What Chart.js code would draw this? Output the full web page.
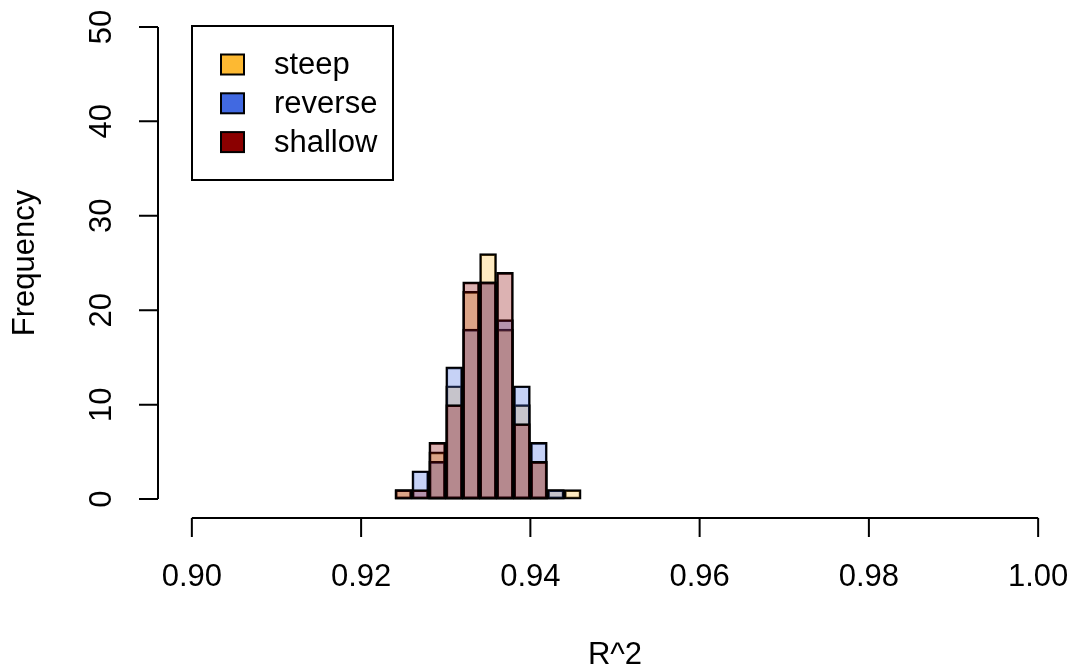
<!DOCTYPE html>
<html>
<head>
<meta charset="utf-8">
<script src="https://cdn.jsdelivr.net/npm/chart.js@4"></script>
<style>
  html, body { margin: 0; padding: 0; background: #fff; }
  #wrap { width: 1072px; height: 666px; }
</style>
</head>
<body>
<div id="wrap"><canvas id="hist" width="1072" height="666"></canvas></div>
<script>
// ─── DATA ───────────────────────────────────────────────────────
// bin centres (width 0.002), counts per group; null = bin not in that histogram
const binCenters = [0.925, 0.927, 0.929, 0.931, 0.933, 0.935, 0.937, 0.939, 0.941, 0.943, 0.945];
const steepCounts   = [1, 0, 5, 12, 22, 26, 18, 10, 4, 1, 1];
const reverseCounts = [null, 3, 4, 14, 18, 23, 19, 12, 6, 1, null];
const shallowCounts = [1, 1, 6, 10, 23, 23, 24, 8, 4, null, null];

const seriesNames = ['steep', 'reverse', 'shallow'];
const seriesColors = ['rgb(253, 185, 50)', 'rgb(65, 105, 225)', 'rgb(139, 0, 0)'];

const xTicks = [0.90, 0.92, 0.94, 0.96, 0.98, 1.00];
const yTicks = [0, 10, 20, 30, 40, 50];
const xTitle = 'R^2';
const yTitle = 'Frequency';

const FONT = "31px 'Liberation Sans', Arial, Helvetica, sans-serif";

function withAlpha(rgb, a) {
  return rgb.replace('rgb(', 'rgba(').replace(')', `, ${a})`);
}

function toPoints(counts) {
  return binCenters.map((x, i) => ({ x, y: counts[i] }));
}

// ─── R-style axes + legend ──────────────────────────────────────
const baseAxes = {
  id: 'baseAxes',
  afterDraw(chart) {
    const { ctx, chartArea } = chart;
    const xs = chart.scales.x;
    const ys = chart.scales.y;
    const tick = 19;
    ctx.save();
    ctx.strokeStyle = '#000';
    ctx.fillStyle = '#000';
    ctx.lineWidth = 2;
    ctx.font = FONT;

    // x axis
    const y0 = chartArea.bottom;
    ctx.beginPath();
    ctx.moveTo(xs.getPixelForValue(xTicks[0]), y0);
    ctx.lineTo(xs.getPixelForValue(xTicks[xTicks.length - 1]), y0);
    xTicks.forEach(v => {
      const px = xs.getPixelForValue(v);
      ctx.moveTo(px, y0);
      ctx.lineTo(px, y0 + tick);
    });
    ctx.stroke();
    ctx.textAlign = 'center';
    ctx.textBaseline = 'middle';
    xTicks.forEach(v => ctx.fillText(v.toFixed(2), xs.getPixelForValue(v), 577));
    ctx.fillText(xTitle, (chartArea.left + chartArea.right) / 2, 655);

    // y axis
    const x0 = chartArea.left;
    ctx.beginPath();
    ctx.moveTo(x0, ys.getPixelForValue(yTicks[0]));
    ctx.lineTo(x0, ys.getPixelForValue(yTicks[yTicks.length - 1]));
    yTicks.forEach(v => {
      const py = ys.getPixelForValue(v);
      ctx.moveTo(x0, py);
      ctx.lineTo(x0 - tick, py);
    });
    ctx.stroke();
    yTicks.forEach(v => {
      ctx.save();
      ctx.translate(102, ys.getPixelForValue(v));
      ctx.rotate(-Math.PI / 2);
      ctx.fillText(String(v), 0, 0);
      ctx.restore();
    });
    ctx.save();
    ctx.translate(25, (chartArea.top + chartArea.bottom) / 2);
    ctx.rotate(-Math.PI / 2);
    ctx.fillText(yTitle, 0, 0);
    ctx.restore();

    // legend box
    ctx.strokeRect(192, 26, 201, 154);
    ctx.textAlign = 'left';
    seriesNames.forEach((name, i) => {
      const cy = 64.5 + i * 38.8;
      ctx.fillStyle = seriesColors[i];
      ctx.fillRect(221, cy - 10, 23, 20);
      ctx.strokeRect(221, cy - 10, 23, 20);
      ctx.fillStyle = '#000';
      ctx.fillText(name, 274, cy + 1);
    });
    ctx.restore();
  },
};

const countsList = [steepCounts, reverseCounts, shallowCounts];

new Chart(document.getElementById('hist'), {
  type: 'bar',
  data: {
    datasets: seriesNames.map((name, i) => ({
      label: name,
      data: toPoints(countsList[i]),
      backgroundColor: withAlpha(seriesColors[i], 0.3),
      borderColor: '#000',
      borderWidth: 2,
      borderSkipped: false,
      barPercentage: 1,
      categoryPercentage: 1,
      grouped: false,
      order: seriesNames.length - i, // steep drawn first, shallow on top
    })),
  },
  options: {
    responsive: false,
    animation: false,
    devicePixelRatio: 1,
    layout: { padding: { left: 158, right: 0, top: 8, bottom: 148 } },
    plugins: { legend: { display: false }, tooltip: { enabled: false } },
    scales: {
      x: { type: 'linear', min: 0.896, max: 1.004, offset: false, display: false },
      y: { type: 'linear', min: -2, max: 52, display: false },
    },
  },
  plugins: [baseAxes],
});
</script>
</body>
</html>
